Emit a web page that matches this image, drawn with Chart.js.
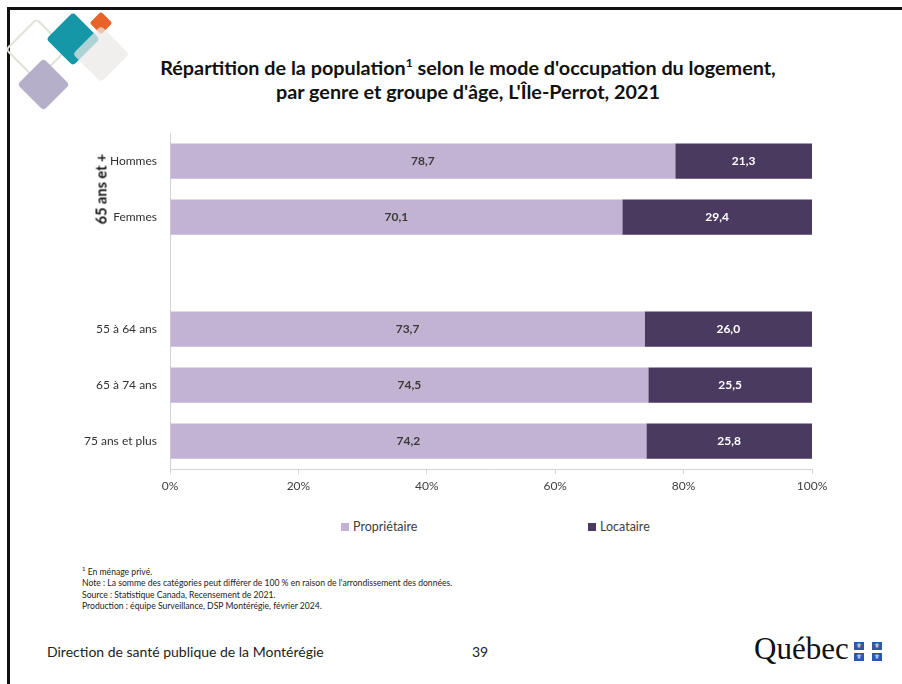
<!DOCTYPE html>
<html lang="fr">
<head>
<meta charset="utf-8">
<script src="https://cdn.jsdelivr.net/npm/chart.js@4.4.1/dist/chart.umd.min.js"></script>
<style>
  html, body { margin: 0; padding: 0; background: #fff; }
  body { width: 902px; height: 684px; position: relative; overflow: hidden; font-family: Lato, "Open Sans", sans-serif; color: #000; }
  .frame { position: absolute; left: 7px; top: 7px; right: -10px; bottom: -10px; border-top: 3px solid #111; border-left: 3px solid #111; }
  .dia { position: absolute; transform: rotate(45deg); border-radius: 4px; }
  .title { position: absolute; left: 80px; width: 776px; top: 55px; text-align: center; font-weight: 700; font-size: 19.8px; line-height: 24px; color: #111; }
  .title sup { font-size: 12px; line-height: 0; }
  #wrap { position: absolute; left: 60px; top: 113px; width: 800px; height: 386px; }
  .group { position: absolute; left: 101px; top: 189px; transform: translate(-50%, -50%) rotate(-90deg); font-weight: 700; font-size: 14.5px; white-space: nowrap; color: #111; }
  .legend { position: absolute; top: 519px; font-size: 12.5px; color: #404040; }
  .legend i { display: inline-block; width: 8px; height: 8px; margin-right: 4px; vertical-align: 0px; }
  .notes { position: absolute; left: 82px; top: 563px; font-size: 8.6px; line-height: 11.5px; color: #222; }
  .notes sup { font-size: 6px; }
  .footer { position: absolute; top: 643px; font-size: 14px; color: #222; }
  .qc { position: absolute; left: 754px; top: 631px; font-family: "Liberation Serif", "DejaVu Serif", serif; font-size: 31px; color: #111; }
  .flag { position: absolute; width: 10px; height: 8px; background: #2a5aa6; color: #fff; font-size: 7px; line-height: 8px; text-align: center; font-family: "DejaVu Sans", sans-serif; }
</style>
</head>
<body>
<div class="frame"></div>

<!-- logo losanges -->
<div class="dia" style="left:14px;top:27px;width:41px;height:41px;border:2px solid #dfe3d8;border-radius:5px;"></div>
<div class="dia" style="left:25px;top:66px;width:37px;height:37px;background:#b6afca;"></div>
<div class="dia" style="left:54px;top:20px;width:38px;height:38px;background:#1597a8;"></div>
<div class="dia" style="left:93px;top:15px;width:16px;height:16px;background:#e8632a;border-radius:2px;"></div>
<div class="dia" style="left:81px;top:34px;width:40px;height:40px;background:rgba(236,233,230,0.72);"></div>

<div class="title">Répartition de la population<sup>1</sup> selon le mode d'occupation du logement,<br>par genre et groupe d'âge, L'Île-Perrot, 2021</div>

<div id="wrap"><canvas id="chart"></canvas></div>
<div class="group">65 ans et +</div>

<div class="legend" style="left:341px;"><i style="background:#c3b3d3"></i>Propriétaire</div>
<div class="legend" style="left:588px;"><i style="background:#4b3a5f"></i>Locataire</div>

<div class="notes">
  <sup>1</sup> En ménage privé.<br>
  Note : La somme des catégories peut différer de 100 % en raison de l'arrondissement des données.<br>
  Source : Statistique Canada, Recensement de 2021.<br>
  Production : équipe Surveillance, DSP Montérégie, février 2024.
</div>

<div class="footer" style="left:47px;">Direction de santé publique de la Montérégie</div>
<div class="footer" style="left:472px;">39</div>
<div class="qc">Québec</div>
<div class="flag" style="left:854px;top:642px;">⚜</div>
<div class="flag" style="left:872px;top:642px;">⚜</div>
<div class="flag" style="left:854px;top:653px;">⚜</div>
<div class="flag" style="left:872px;top:653px;">⚜</div>

<script>
const categories = ["Hommes", "Femmes", "", "55 à 64 ans", "65 à 74 ans", "75 ans et plus"];
const proprietaire = [78.7, 70.1, null, 73.7, 74.5, 74.2];
const locataire = [21.3, 29.4, null, 26.0, 25.5, 25.8];
const xTicks = [0, 20, 40, 60, 80, 100];

const COLORS = { proprietaire: "#c3b3d3", locataire: "#4b3a5f" };

// 100 % empilé : chaque barre est ramenée à la somme des deux catégories
function shareOf(values, other) {
  return values.map((v, i) => (v == null ? null : (v / (v + other[i])) * 100));
}

function formatFr(value) {
  return value.toFixed(1).replace(".", ",");
}

const rawValues = [proprietaire, locataire];
const labelColors = ["#3a3a3a", "#ffffff"];

const barLabels = {
  id: "barLabels",
  afterDatasetsDraw(chart) {
    const { ctx } = chart;
    ctx.save();
    ctx.font = "700 12px Lato, 'Open Sans', sans-serif";
    ctx.textAlign = "center";
    ctx.textBaseline = "middle";
    chart.data.datasets.forEach((dataset, di) => {
      const meta = chart.getDatasetMeta(di);
      meta.data.forEach((bar, index) => {
        const raw = rawValues[di][index];
        if (raw == null) return;
        ctx.fillStyle = labelColors[di];
        ctx.fillText(formatFr(raw), (bar.x + bar.base) / 2, bar.y);
      });
    });
    ctx.restore();
  },
};

const axisColor = "#d4d4d4";

new Chart(document.getElementById("chart"), {
  type: "bar",
  data: {
    labels: categories,
    datasets: [
      { label: "Propriétaire", data: shareOf(proprietaire, locataire), backgroundColor: COLORS.proprietaire },
      { label: "Locataire", data: shareOf(locataire, proprietaire), backgroundColor: COLORS.locataire },
    ],
  },
  options: {
    indexAxis: "y",
    responsive: true,
    maintainAspectRatio: false,
    animation: false,
    layout: { padding: { top: 8, right: 48, bottom: 0, left: 0 } },
    datasets: { bar: { barPercentage: 0.63, categoryPercentage: 1 } },
    scales: {
      x: {
        stacked: true,
        min: 0,
        max: 100,
        afterBuildTicks: (scale) => {
          scale.ticks = xTicks.map((value) => ({ value }));
        },
        afterFit: (scale) => { scale.height = 30; },
        border: { color: axisColor },
        grid: { drawOnChartArea: false, drawTicks: true, tickLength: 5, color: axisColor },
        ticks: {
          padding: 5,
          color: "#404040",
          font: { family: "Lato, 'Open Sans', sans-serif", size: 12 },
          callback: (value) => value + "%",
        },
      },
      y: {
        stacked: true,
        afterFit: (scale) => { scale.width = 110; },
        border: { color: axisColor },
        grid: { display: false, drawTicks: false },
        ticks: {
          padding: 13,
          color: "#333",
          font: { family: "Lato, 'Open Sans', sans-serif", size: 12 },
        },
      },
    },
    plugins: {
      legend: { display: false },
      tooltip: { enabled: false },
    },
  },
  plugins: [barLabels],
});
</script>
</body>
</html>
